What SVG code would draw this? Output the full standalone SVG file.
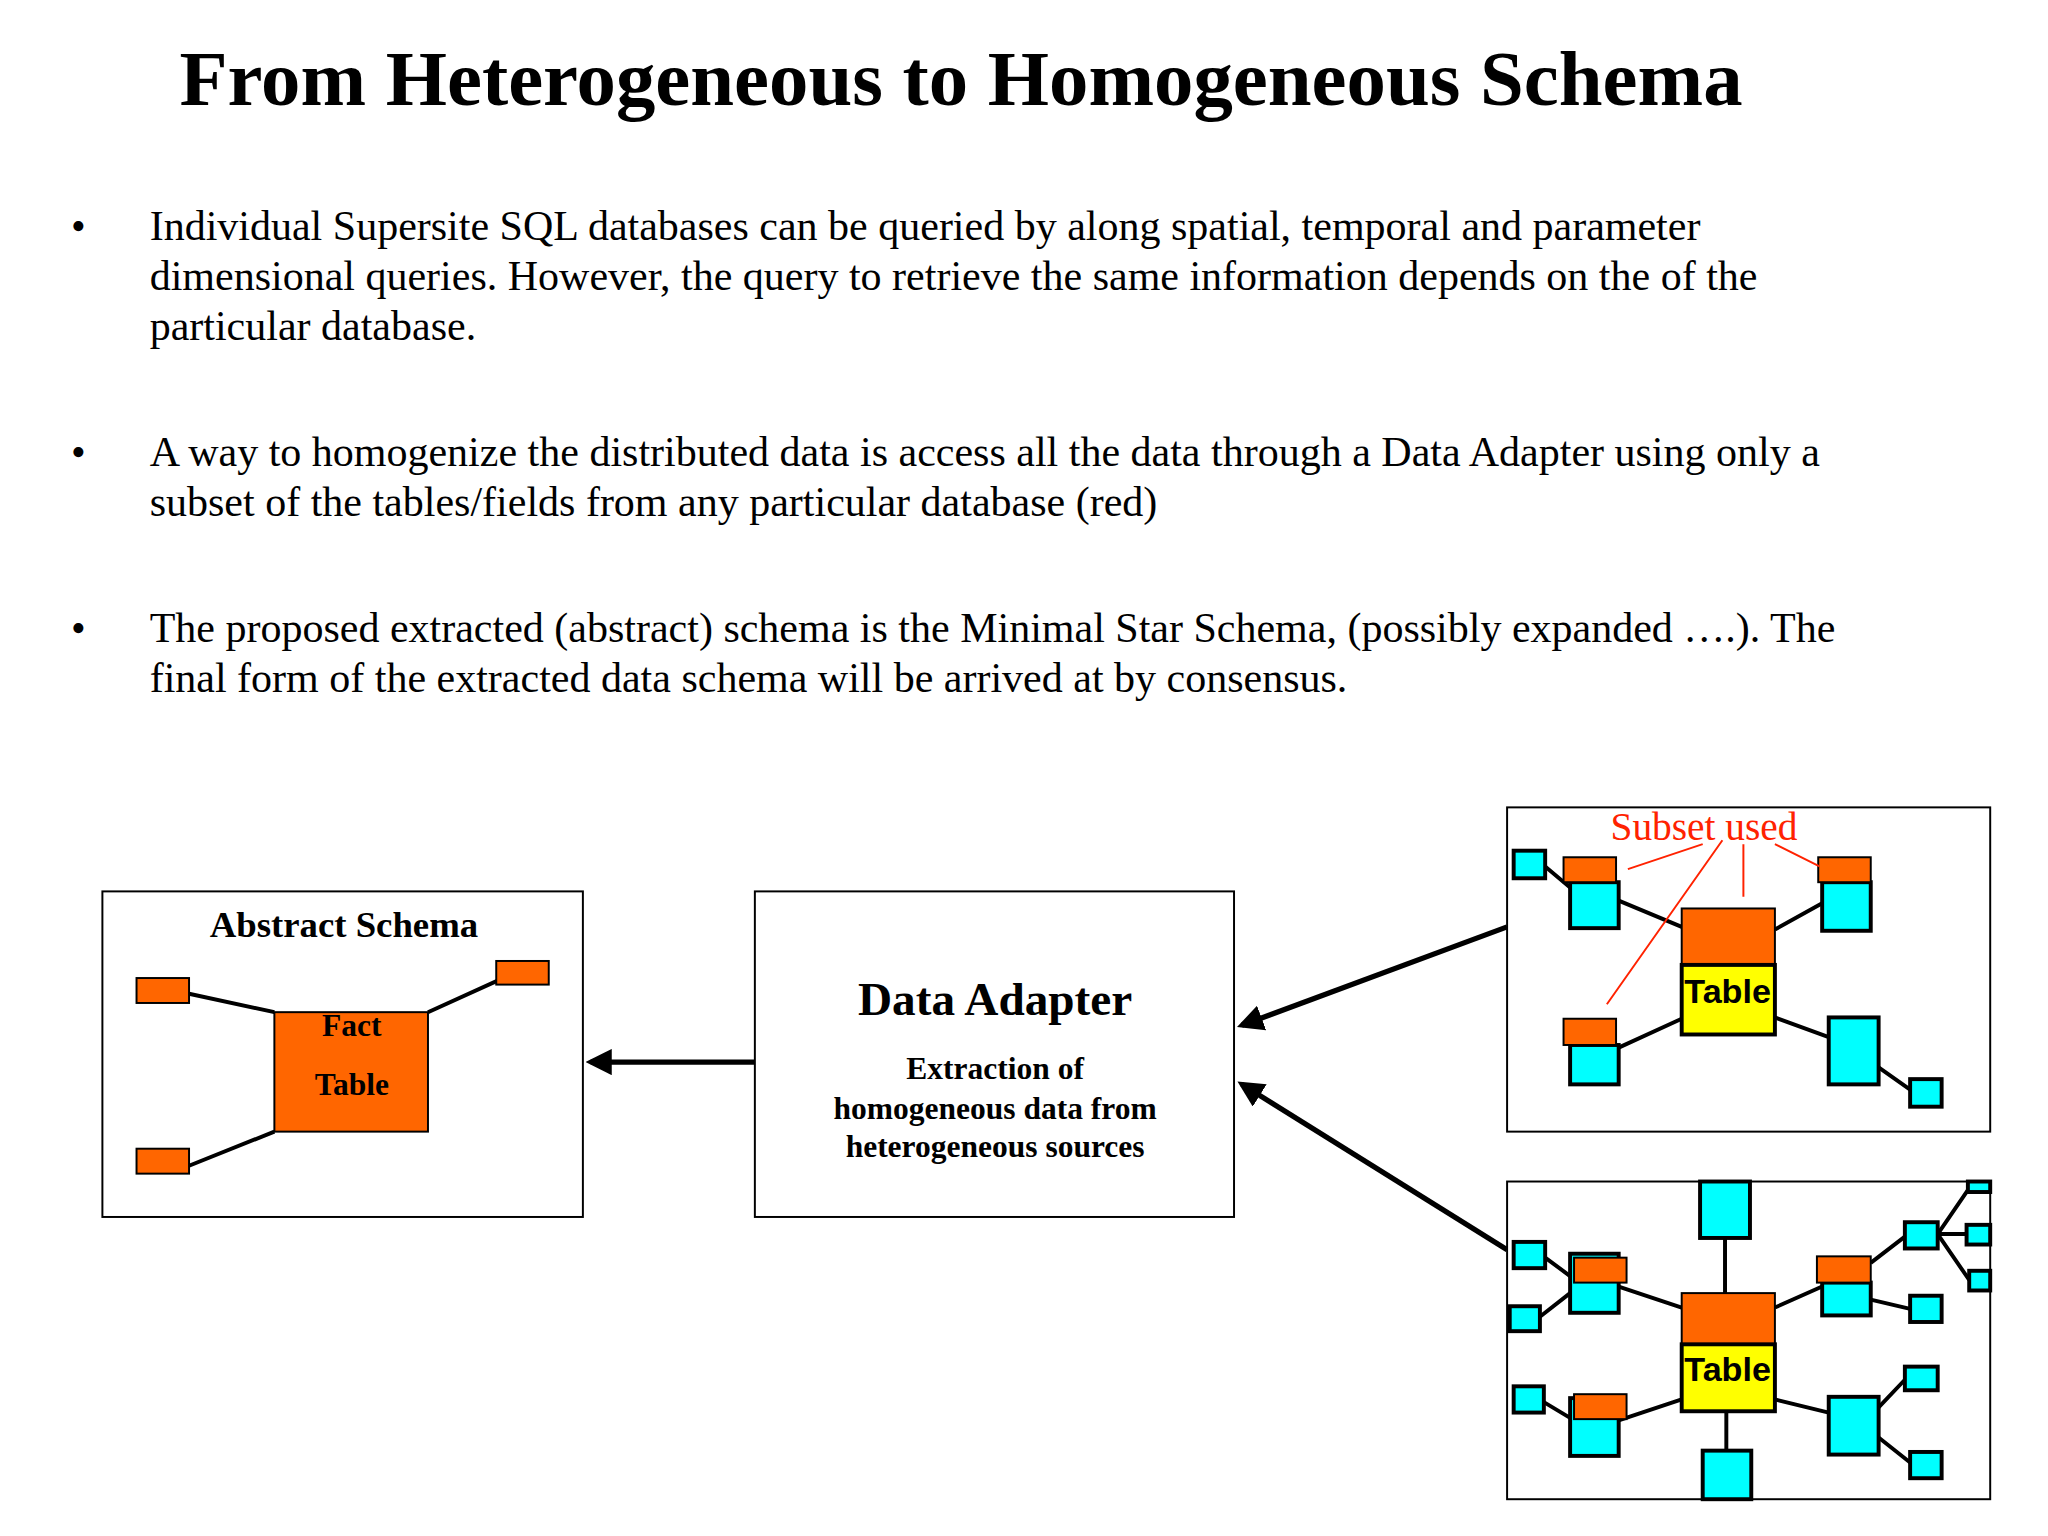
<svg xmlns="http://www.w3.org/2000/svg" width="2048" height="1536" viewBox="0 0 2048 1536">
<style>
.t{font-family:"Liberation Serif",serif;fill:#000}
.b{font-size:32px}
.c{fill:#00ffff;stroke:#000;stroke-width:3}
.o{fill:#ff6600;stroke:#000;stroke-width:1.5}
.y{fill:#ffff00;stroke:#000;stroke-width:3}
.l{stroke:#000;stroke-width:3;fill:none}
.r{stroke:#ff2200;stroke-width:1.5;fill:none}
.box{fill:#fff;stroke:#000;stroke-width:1.5}
.tb{font-family:"Liberation Sans",Arial,sans-serif;font-weight:bold;font-size:26px;text-anchor:middle}
.ar{stroke:#000;stroke-width:4;fill:none;marker-end:url(#ah)}
</style>
<defs><marker id="ah" markerWidth="5" markerHeight="5" refX="4" refY="2.5" orient="auto"><path d="M0,0 L5,2.5 L0,5 z" fill="#000"/></marker></defs>
<rect width="2048" height="1536" fill="#fff"/>
<g transform="scale(1.3128)">
<text class="t" x="732" y="80" font-size="60" font-weight="bold" text-anchor="middle">From Heterogeneous to Homogeneous Schema</text>
<g class="t b">
<text x="54" y="183">•</text><text x="114" y="183">Individual Supersite SQL databases can be queried by along spatial, temporal and parameter</text>
<text x="114" y="221">dimensional queries.  However, the query to retrieve the same information depends on the of the</text>
<text x="114" y="259">particular database.</text>
<text x="54" y="355">•</text><text x="114" y="355">A way to homogenize the distributed data is access all the data through a Data Adapter using only a</text>
<text x="114" y="393">subset of the tables/fields from any particular database (red)</text>
<text x="54" y="489">•</text><text x="114" y="489">The proposed extracted (abstract) schema is the Minimal Star Schema, (possibly expanded ….). The</text>
<text x="114" y="527">final form of the extracted data schema will be arrived at by consensus.</text>
</g>
<g id="abstract">
<rect class="box" x="78" y="679" width="366" height="248"/>
<text class="t" x="262" y="714" font-size="28" font-weight="bold" text-anchor="middle">Abstract Schema</text>
<path class="l" d="M144,757 L209,771 M326,771 L390,742 M144,888 L209,862"/>
<rect class="o" x="209" y="771" width="117" height="91"/>
<rect class="o" x="104" y="745" width="40" height="19"/>
<rect class="o" x="104" y="875" width="40" height="19"/>
<rect class="o" x="378" y="732" width="40" height="18"/>
<text class="t" x="268" y="789" font-size="24" font-weight="bold" text-anchor="middle">Fact</text>
<text class="t" x="268" y="834" font-size="24" font-weight="bold" text-anchor="middle">Table</text>
</g>
<g id="adapter">
<rect class="box" x="575" y="679" width="365" height="248"/>
<text class="t" x="758" y="773" font-size="36" font-weight="bold" text-anchor="middle">Data Adapter</text>
<g class="t" font-size="24" font-weight="bold" text-anchor="middle">
<text x="758" y="822">Extraction of</text><text x="758" y="852">homogeneous data from</text><text x="758" y="881">heterogeneous sources</text></g>
</g>
<g id="connectors">
<line class="ar" x1="575" y1="809" x2="450" y2="809"/>
<line class="ar" x1="1148" y1="706" x2="946" y2="781"/>
<line class="ar" x1="1148" y1="952" x2="946" y2="826"/>
</g>
<g id="db1">
<rect class="box" x="1148" y="615" width="368" height="247"/>
<path class="l" d="M1177,660 L1196,676 M1233,686 L1281,706 M1352,708 L1388,688 M1233,798 L1281,776 M1352,775 L1393,790 M1431,813 L1455,830"/>
<rect class="c" x="1153" y="648" width="24" height="21"/>
<rect class="c" x="1196" y="672" width="37" height="35"/>
<rect class="o" x="1191" y="653" width="40" height="19"/>
<rect class="c" x="1388" y="672" width="37" height="37"/>
<rect class="o" x="1385" y="653" width="40" height="19"/>
<rect class="c" x="1196" y="796" width="37" height="30"/>
<rect class="o" x="1191" y="776" width="40" height="20"/>
<rect class="o" x="1281" y="692" width="71" height="43" stroke-width="3"/>
<rect class="y" x="1281" y="735" width="71" height="53"/>
<text class="tb" x="1316" y="764">Table</text>
<rect class="c" x="1393" y="775" width="38" height="51"/>
<rect class="c" x="1455" y="822" width="24" height="21"/>
<path class="r" d="M1312,640 L1224,765 M1297,643 L1240,662 M1328,643 L1328,683 M1352,643 L1386,660"/>
<text x="1298" y="640" font-family="Liberation Serif,serif" font-size="30" fill="#ff2200" text-anchor="middle">Subset used</text>
</g>
<g id="db2">
<rect class="box" x="1148" y="900" width="368" height="242"/>
<path class="l" d="M1314,943 L1314,985 M1315,1075 L1315,1105 M1177,958 L1196,972 M1173,1003 L1196,985 M1233,980 L1281,996 M1176,1068 L1196,1080 M1233,1082 L1281,1066 M1352,996 L1388,980 M1425,962 L1451,942 M1476,940 L1500,905 M1476,940 L1498,940 M1476,940 L1500,975 M1425,990 L1455,997 M1352,1066 L1393,1076 M1431,1072 L1451,1051 M1431,1095 L1455,1114"/>
<rect class="c" x="1295" y="900" width="38" height="43"/>
<rect class="c" x="1297" y="1105" width="37" height="37"/>
<rect class="c" x="1153" y="946" width="24" height="20"/>
<rect class="c" x="1150" y="995" width="23" height="19"/>
<rect class="c" x="1196" y="955" width="37" height="45"/>
<rect class="o" x="1199" y="958" width="40" height="19"/>
<rect class="c" x="1153" y="1056" width="23" height="20"/>
<rect class="c" x="1196" y="1065" width="37" height="44"/>
<rect class="o" x="1199" y="1062" width="40" height="19"/>
<rect class="o" x="1281" y="985" width="71" height="39" stroke-width="3"/>
<rect class="y" x="1281" y="1024" width="71" height="51"/>
<text class="tb" x="1316" y="1052">Table</text>
<rect class="c" x="1388" y="977" width="37" height="25"/>
<rect class="o" x="1384" y="957" width="41" height="20"/>
<rect class="c" x="1451" y="931" width="25" height="20"/>
<rect class="c" x="1499" y="900" width="17" height="8" stroke-width="2"/>
<rect class="c" x="1498" y="933" width="18" height="15" stroke-width="2"/>
<rect class="c" x="1500" y="968" width="16" height="15" stroke-width="2"/>
<rect class="c" x="1455" y="987" width="24" height="20"/>
<rect class="c" x="1393" y="1064" width="38" height="44"/>
<rect class="c" x="1451" y="1041" width="25" height="18"/>
<rect class="c" x="1455" y="1106" width="24" height="20"/>
</g>
</g>
</svg>
